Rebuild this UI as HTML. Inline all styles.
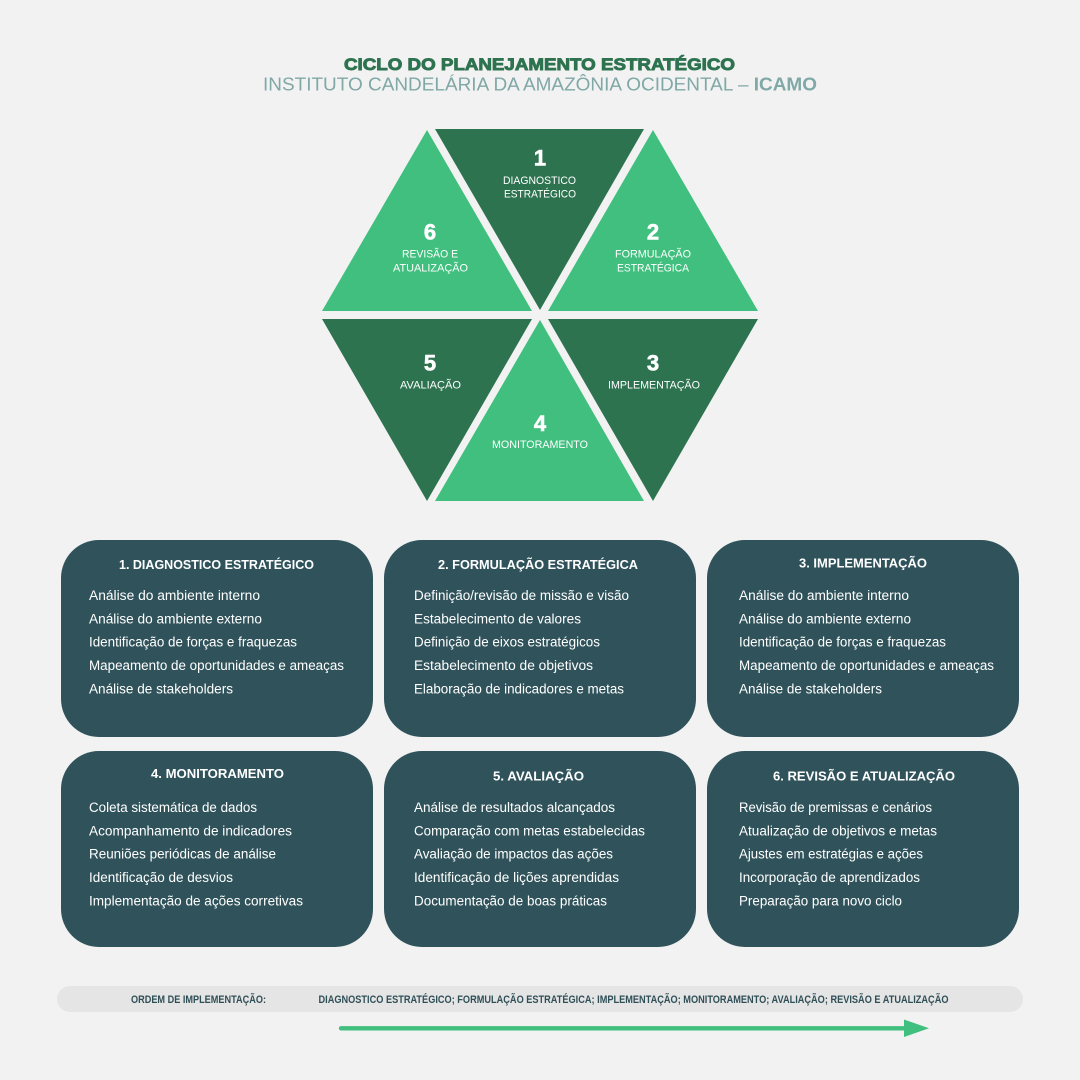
<!DOCTYPE html>
<html><head><meta charset="utf-8"><style>
html,body{margin:0;padding:0;background:#f2f2f2;}
svg{display:block;}
text{font-family:"Liberation Sans","Noto Sans CJK SC",sans-serif;}
.it{font-size:13.5px;fill:#ffffff;}
.bt{font-size:13px;fill:#ffffff;font-weight:bold;text-anchor:middle;}
.hn{font-size:22px;fill:#ffffff;font-weight:bold;text-anchor:middle;stroke:#fff;stroke-width:0.6;}
.hl{font-size:11px;fill:#ffffff;}
</style></head><body>
<svg width="1080" height="1080" viewBox="0 0 1080 1080" xmlns="http://www.w3.org/2000/svg">
<rect width="1080" height="1080" fill="#f2f2f2"/>
<!-- Titles -->
<text x="344" y="70" font-size="17" font-weight="bold" fill="#2e7350" stroke="#2e7350" stroke-width="0.9" textLength="391" lengthAdjust="spacingAndGlyphs">CICLO DO PLANEJAMENTO ESTRATÉGICO</text>
<text x="263" y="90.5" font-size="18.5" fill="#7fa8a6" textLength="554" lengthAdjust="spacingAndGlyphs">INSTITUTO CANDELÁRIA DA AMAZÔNIA OCIDENTAL – <tspan font-weight="bold">ICAMO</tspan></text>

<!-- Hexagon -->
<polygon points="435,129 644,129 540,310" fill="#2e7350"/>
<polygon points="427,130 322,311 532,311" fill="#40bf7e"/>
<polygon points="653,130 548,311 758,311" fill="#40bf7e"/>
<polygon points="322,319 532,319 427,501" fill="#2e7350"/>
<polygon points="540,320 435,501 644,501" fill="#40bf7e"/>
<polygon points="548,319 758,319 653,501" fill="#2e7350"/>

<text class="hn" x="540" y="165.5">1</text>
<text class="hl" x="503" y="184" textLength="73" lengthAdjust="spacingAndGlyphs">DIAGNOSTICO</text>
<text class="hl" x="504" y="197.5" textLength="72" lengthAdjust="spacingAndGlyphs">ESTRATÉGICO</text>

<text class="hn" x="430" y="239.5">6</text>
<text class="hl" x="402" y="257.5" textLength="56" lengthAdjust="spacingAndGlyphs">REVISÃO E</text>
<text class="hl" x="393" y="271.5" textLength="75" lengthAdjust="spacingAndGlyphs">ATUALIZAÇÃO</text>

<text class="hn" x="653" y="239.5">2</text>
<text class="hl" x="615" y="257.5" textLength="76" lengthAdjust="spacingAndGlyphs">FORMULAÇÃO</text>
<text class="hl" x="617" y="271.5" textLength="72" lengthAdjust="spacingAndGlyphs">ESTRATÉGICA</text>

<text class="hn" x="430" y="370.5">5</text>
<text class="hl" x="400" y="388.5" textLength="61" lengthAdjust="spacingAndGlyphs">AVALIAÇÃO</text>

<text class="hn" x="653" y="370.5">3</text>
<text class="hl" x="608" y="388.5" textLength="92" lengthAdjust="spacingAndGlyphs">IMPLEMENTAÇÃO</text>

<text class="hn" x="540" y="431">4</text>
<text class="hl" x="492" y="448" textLength="96" lengthAdjust="spacingAndGlyphs">MONITORAMENTO</text>

<!-- Boxes -->
<rect x="61" y="540" width="312" height="197" rx="38" fill="#30535b"/>
<rect x="384" y="540" width="312" height="197" rx="38" fill="#30535b"/>
<rect x="707" y="540" width="312" height="197" rx="38" fill="#30535b"/>
<rect x="61" y="751" width="312" height="196" rx="38" fill="#30535b"/>
<rect x="384" y="751" width="312" height="196" rx="38" fill="#30535b"/>
<rect x="707" y="751" width="312" height="196" rx="38" fill="#30535b"/>

<!-- Box 1 -->
<text class="bt" x="216.5" y="569" textLength="195" lengthAdjust="spacingAndGlyphs">1. DIAGNOSTICO ESTRATÉGICO</text>
<text class="it" x="89" y="600" textLength="171" lengthAdjust="spacingAndGlyphs">Análise do ambiente interno</text>
<text class="it" x="89" y="623.3" textLength="173" lengthAdjust="spacingAndGlyphs">Análise do ambiente externo</text>
<text class="it" x="89" y="646.6" textLength="208" lengthAdjust="spacingAndGlyphs">Identificação de forças e fraquezas</text>
<text class="it" x="89" y="670" textLength="255" lengthAdjust="spacingAndGlyphs">Mapeamento de oportunidades e ameaças</text>
<text class="it" x="89" y="693.3" textLength="144" lengthAdjust="spacingAndGlyphs">Análise de stakeholders</text>

<!-- Box 2 -->
<text class="bt" x="538" y="569" textLength="200" lengthAdjust="spacingAndGlyphs">2. FORMULAÇÃO ESTRATÉGICA</text>
<text class="it" x="414" y="600" textLength="215" lengthAdjust="spacingAndGlyphs">Definição/revisão de missão e visão</text>
<text class="it" x="414" y="623.3" textLength="167" lengthAdjust="spacingAndGlyphs">Estabelecimento de valores</text>
<text class="it" x="414" y="646.6" textLength="186" lengthAdjust="spacingAndGlyphs">Definição de eixos estratégicos</text>
<text class="it" x="414" y="670" textLength="179" lengthAdjust="spacingAndGlyphs">Estabelecimento de objetivos</text>
<text class="it" x="414" y="693.3" textLength="210" lengthAdjust="spacingAndGlyphs">Elaboração de indicadores e metas</text>

<!-- Box 3 -->
<text class="bt" x="863" y="567.5" textLength="128" lengthAdjust="spacingAndGlyphs">3. IMPLEMENTAÇÃO</text>
<text class="it" x="739" y="600" textLength="170" lengthAdjust="spacingAndGlyphs">Análise do ambiente interno</text>
<text class="it" x="739" y="623.3" textLength="172" lengthAdjust="spacingAndGlyphs">Análise do ambiente externo</text>
<text class="it" x="739" y="646.6" textLength="207" lengthAdjust="spacingAndGlyphs">Identificação de forças e fraquezas</text>
<text class="it" x="739" y="670" textLength="255" lengthAdjust="spacingAndGlyphs">Mapeamento de oportunidades e ameaças</text>
<text class="it" x="739" y="693.3" textLength="143" lengthAdjust="spacingAndGlyphs">Análise de stakeholders</text>

<!-- Box 4 -->
<text class="bt" x="217.5" y="778" textLength="133" lengthAdjust="spacingAndGlyphs">4. MONITORAMENTO</text>
<text class="it" x="89" y="812" textLength="168" lengthAdjust="spacingAndGlyphs">Coleta sistemática de dados</text>
<text class="it" x="89" y="835.3" textLength="203" lengthAdjust="spacingAndGlyphs">Acompanhamento de indicadores</text>
<text class="it" x="89" y="858.6" textLength="187" lengthAdjust="spacingAndGlyphs">Reuniões periódicas de análise</text>
<text class="it" x="89" y="882" textLength="144" lengthAdjust="spacingAndGlyphs">Identificação de desvios</text>
<text class="it" x="89" y="905.3" textLength="214" lengthAdjust="spacingAndGlyphs">Implementação de ações corretivas</text>

<!-- Box 5 -->
<text class="bt" x="538.5" y="780.5" textLength="91" lengthAdjust="spacingAndGlyphs">5. AVALIAÇÃO</text>
<text class="it" x="414" y="812" textLength="201" lengthAdjust="spacingAndGlyphs">Análise de resultados alcançados</text>
<text class="it" x="414" y="835.3" textLength="231" lengthAdjust="spacingAndGlyphs">Comparação com metas estabelecidas</text>
<text class="it" x="414" y="858.6" textLength="199" lengthAdjust="spacingAndGlyphs">Avaliação de impactos das ações</text>
<text class="it" x="414" y="882" textLength="205" lengthAdjust="spacingAndGlyphs">Identificação de lições aprendidas</text>
<text class="it" x="414" y="905.3" textLength="193" lengthAdjust="spacingAndGlyphs">Documentação de boas práticas</text>

<!-- Box 6 -->
<text class="bt" x="864" y="780.5" textLength="182" lengthAdjust="spacingAndGlyphs">6. REVISÃO E ATUALIZAÇÃO</text>
<text class="it" x="739" y="812" textLength="193" lengthAdjust="spacingAndGlyphs">Revisão de premissas e cenários</text>
<text class="it" x="739" y="835.3" textLength="198" lengthAdjust="spacingAndGlyphs">Atualização de objetivos e metas</text>
<text class="it" x="739" y="858.6" textLength="184" lengthAdjust="spacingAndGlyphs">Ajustes em estratégias e ações</text>
<text class="it" x="739" y="882" textLength="181" lengthAdjust="spacingAndGlyphs">Incorporação de aprendizados</text>
<text class="it" x="739" y="905.3" textLength="163" lengthAdjust="spacingAndGlyphs">Preparação para novo ciclo</text>

<!-- Bottom bar -->
<rect x="57" y="986" width="966" height="26" rx="13" fill="#e5e5e5"/>
<text x="131" y="1003" font-size="11" font-weight="bold" fill="#2f4f57" textLength="135" lengthAdjust="spacingAndGlyphs">ORDEM DE IMPLEMENTAÇÃO:</text>
<text x="318.5" y="1003" font-size="11" font-weight="bold" fill="#2f4f57" textLength="630" lengthAdjust="spacingAndGlyphs">DIAGNOSTICO ESTRATÉGICO; FORMULAÇÃO ESTRATÉGICA; IMPLEMENTAÇÃO; MONITORAMENTO; AVALIAÇÃO; REVISÃO E ATUALIZAÇÃO</text>

<!-- Arrow -->
<line x1="341" y1="1028.3" x2="906" y2="1028.3" stroke="#40bf7e" stroke-width="4.3" stroke-linecap="round"/>
<polygon points="904,1019.5 929,1028.3 904,1037" fill="#40bf7e"/>
</svg>
</body></html>
